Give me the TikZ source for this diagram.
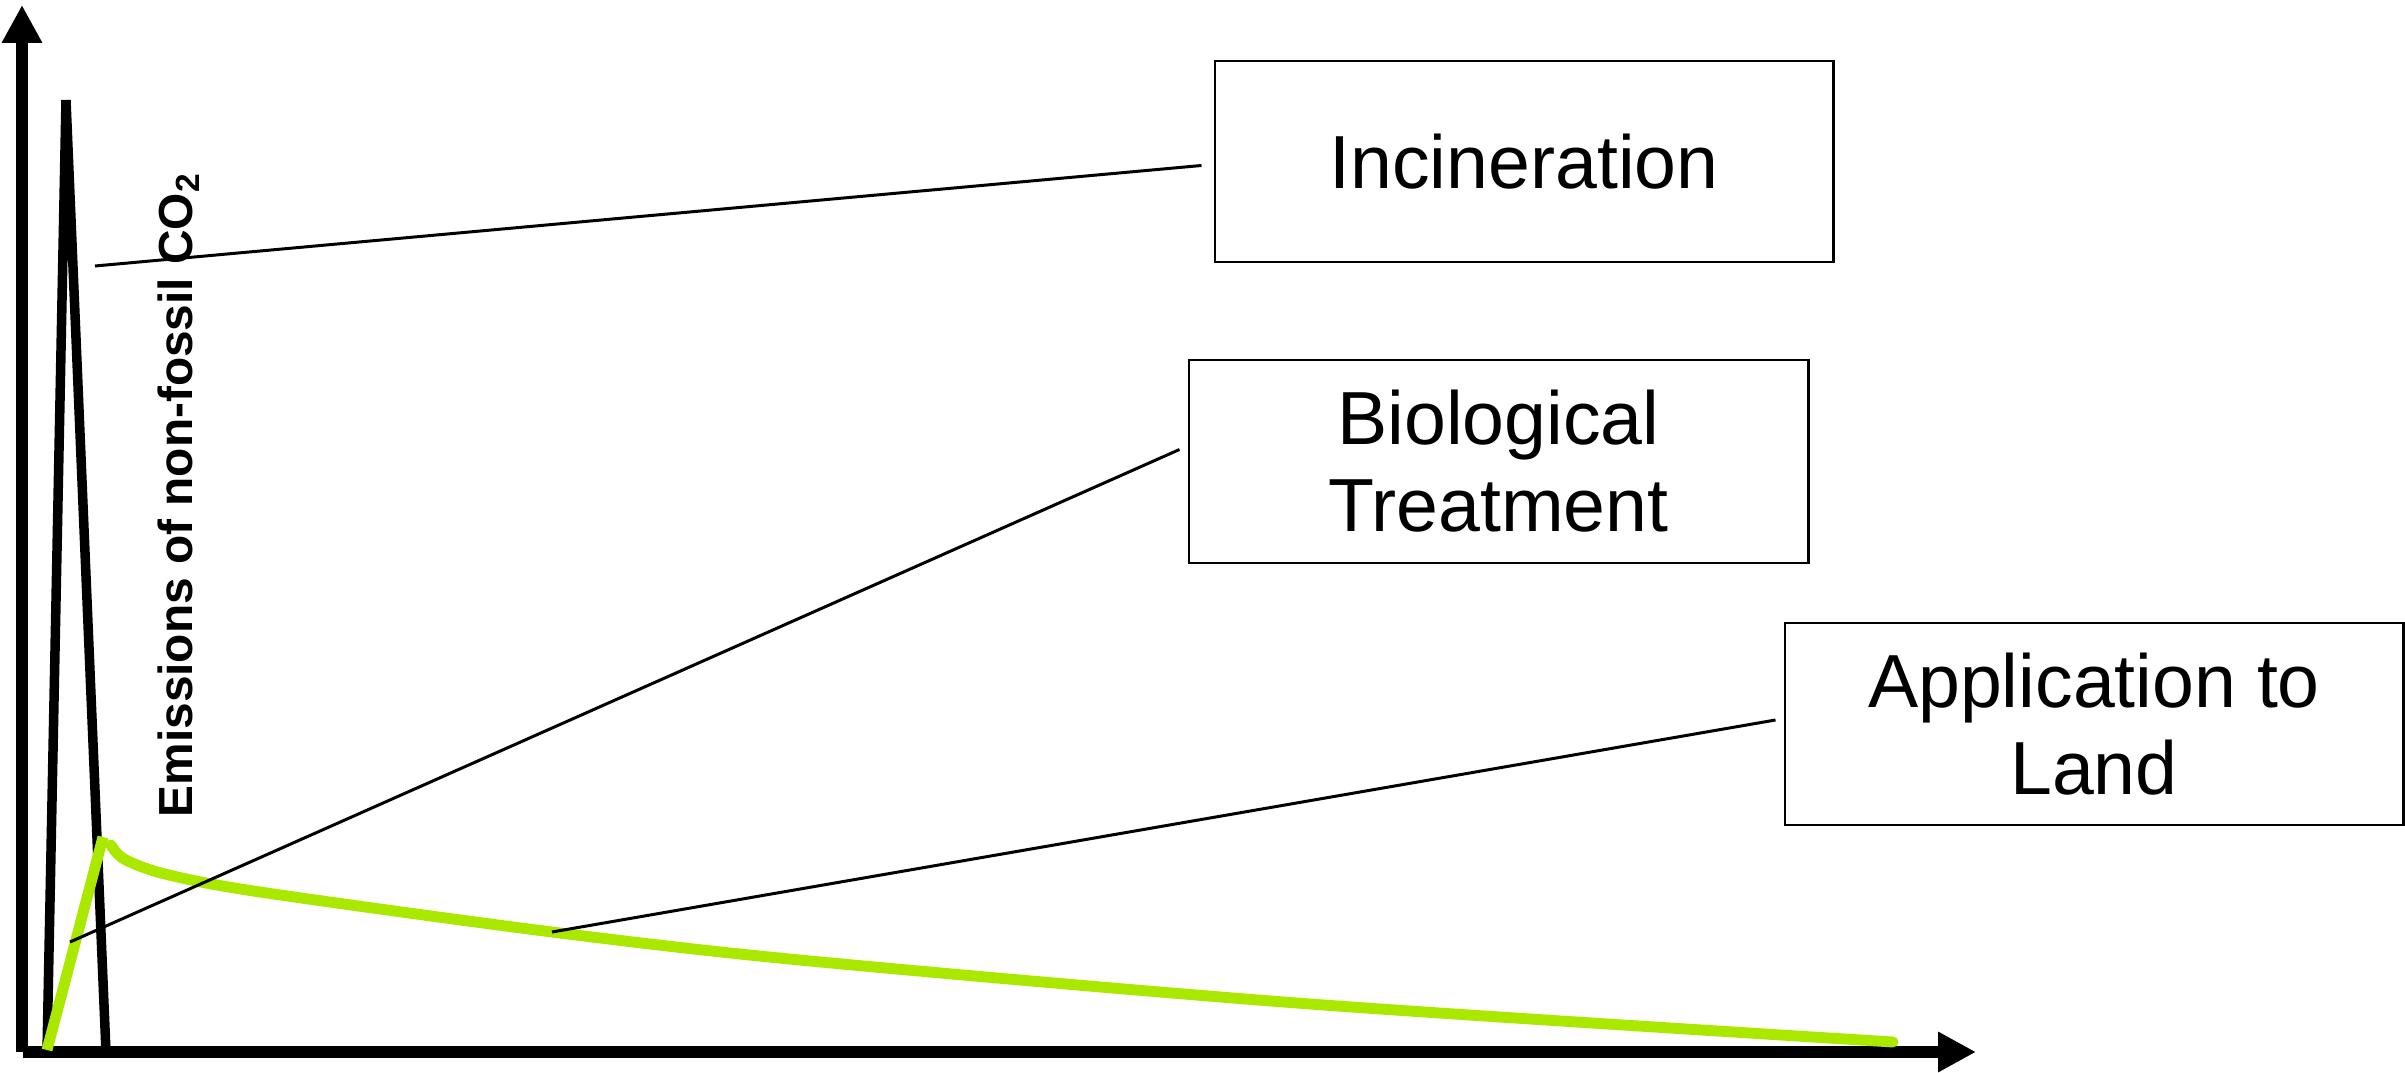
\documentclass[tikz,border=0pt]{standalone}
\usepackage{fontspec}
\setmainfont{Liberation Sans}
\usetikzlibrary{arrows.meta}
\definecolor{lime}{RGB}{170,232,0}
\begin{document}
\begin{tikzpicture}[x=0.01cm,y=-0.01cm,
  axis/.style={line width=3.5pt,line cap=butt,-{Triangle[length=10.8pt,width=10.8pt]}},
  spike/.style={line width=2.7pt,line join=bevel,line cap=butt},
  greenline/.style={line width=3.1pt,draw=lime,line cap=butt},
  leader/.style={line width=0.85pt},
  catbox/.style={draw,line width=0.75pt,minimum width=6.18cm,minimum height=2.01cm,
    align=center,inner sep=0pt,font=\fontsize{21.4}{24.7}\selectfont},
  ylabel/.style={rotate=90,anchor=base west,inner sep=0pt,font=\fontsize{13.6}{16}\selectfont\bfseries}]
\useasboundingbox (0,0) rectangle (2405,1073);
% axes
\coordinate (origin) at (22,1052);
\coordinate (ytip) at (22,5);
\coordinate (xstart) at (23,1052);
\coordinate (xtip) at (1976,1052);
\draw[axis] (origin) -- (ytip);
\draw[axis] (xstart) -- (xtip);
% incineration spike
\coordinate (s0) at (47,1052);
\coordinate (s1) at (66,100);
\coordinate (s2) at (106,1052);
\draw[spike] (s0) -- (s1) -- (s2);
% green curve
\coordinate (g0) at (47,1050);
\coordinate (g1) at (103,837);
\draw[greenline] (g0) -- (g1);
\draw[greenline,line cap=round] plot[smooth,tension=0.5] coordinates
  {(111,845) (124,859) (165,874) (260,892) (552,932) (810,961) (1310,1004) (1893,1042)};
% label
\node[ylabel] (ylab) at (192,818) {Emissions of non-fossil CO\textsubscript{2}};
% boxes
\node[catbox] (inc) at (1524,161.5) {Incineration};
\node[catbox,minimum width=6.19cm,minimum height=2.03cm] (bio) at (1498.5,461.5) {Biological\\Treatment};
\node[catbox,minimum height=2.02cm] (app) at (2094,724) {Application to\\Land};
% leader start points
\coordinate (pinc) at (95,266);
\coordinate (pbio) at (70,942);
\coordinate (papp) at (552,932);
\draw[leader] (pinc) -- ([shift={(-12,4)}]inc.west);
\draw[leader] (pbio) -- ([shift={(-8,-12)}]bio.west);
\draw[leader] (papp) -- ([shift={(-8,-4)}]app.west);
\end{tikzpicture}
\end{document}
